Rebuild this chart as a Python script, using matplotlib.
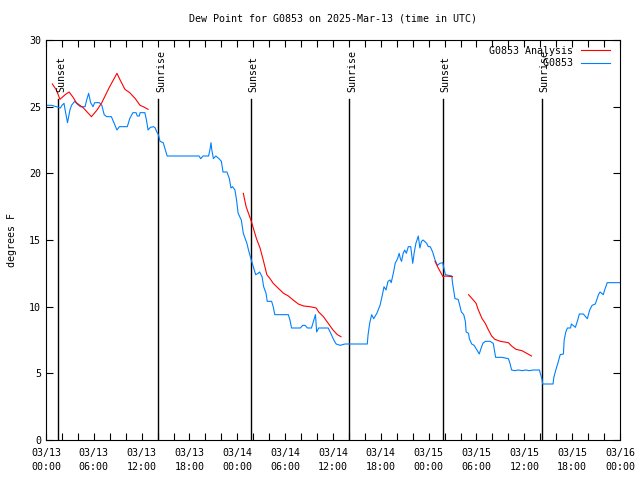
import numpy as np
import pandas as pd
import matplotlib
matplotlib.use('Agg')
import matplotlib.pyplot as plt
import matplotlib.dates as mdates

plt.rcParams['font.family'] = ['DejaVu Sans Mono']
plt.rcParams['font.size'] = 7.2

start = pd.Timestamp('2025-03-13 00:00')

# observed dew point (hours after start, deg F)
obs_hours = [0.0, 0.7, 1.3, 1.8, 2.0, 2.26, 2.4, 2.7, 3.0, 3.2, 3.6, 3.9, 4.3, 4.9, 5.1,
             5.35, 5.6, 5.9, 6.1, 6.7, 7.0, 7.3, 7.6, 8.2, 8.65, 8.9, 9.2, 10.2, 10.5, 10.9,
             11.3, 11.45, 11.7, 11.8, 12.4, 12.6, 12.8, 13.1, 13.5, 13.7, 13.9, 14.1, 14.3, 14.7, 14.9,
             15.2, 19.2, 19.4, 19.7, 20.4, 20.6, 20.7, 20.8, 21.0, 21.3, 21.7, 22.0, 22.2, 22.7, 23.0,
             23.2, 23.4, 23.7, 23.9, 24.1, 24.5, 24.75, 25.2, 25.4, 25.7, 26.0, 26.3, 26.6, 26.8, 27.1,
             27.3, 27.6, 27.75, 28.3, 28.5, 28.7, 30.4, 30.6, 30.8, 31.9, 32.2, 32.5, 32.8, 33.3, 33.6,
             33.8, 33.95, 34.2, 35.4, 35.8, 36.1, 36.4, 36.9, 37.5, 40.3, 40.4, 40.6, 40.85, 41.1, 41.5,
             41.9, 42.2, 42.4, 42.65, 42.9, 43.15, 43.3, 43.6, 43.8, 44.1, 44.3, 44.45, 44.6, 44.8, 45.0,
             45.2, 45.45, 45.75, 46.0, 46.2, 46.4, 46.7, 46.9, 47.1, 47.3, 47.75, 47.95, 48.2, 48.5, 48.8,
             49.1, 49.4, 49.75, 50.1, 50.9, 51.0, 51.2, 51.3, 51.7, 51.9, 52.1, 52.4, 52.6, 52.7, 53.0,
             53.1, 53.4, 53.7, 53.9, 54.35, 54.5, 54.8, 55.1, 55.7, 56.1, 56.4, 57.2, 58.0, 58.2, 58.4,
             58.8, 59.25, 59.7, 60.2, 60.6, 61.1, 61.9, 62.0, 62.2, 62.3, 63.6, 63.7, 63.95, 64.2, 64.5,
             64.9, 65.0, 65.2, 65.4, 65.8, 65.9, 66.4, 66.7, 66.9, 67.4, 67.9, 68.2, 68.5, 68.9, 69.1,
             69.3, 69.5, 69.9, 70.1, 70.4, 72.0]
obs_dewpt = [25.1, 25.1, 25.0, 24.9, 25.1, 25.25, 24.75, 23.8, 24.75, 25.1, 25.4, 25.2, 25.0, 25.0, 25.5,
             26.0, 25.3, 25.0, 25.3, 25.3, 25.1, 24.4, 24.25, 24.25, 23.6, 23.25, 23.5, 23.5, 24.1, 24.55,
             24.55, 24.3, 24.3, 24.55, 24.55, 24.0, 23.25, 23.45, 23.5, 23.4, 23.1, 22.9, 22.4, 22.3, 21.9,
             21.3, 21.3, 21.1, 21.3, 21.3, 21.9, 22.3, 21.75, 21.1, 21.3, 21.1, 20.9, 20.1, 20.1, 19.6,
             18.9, 19.0, 18.75, 18.0, 17.0, 16.5, 15.5, 14.75, 14.25, 13.6, 13.0, 12.4, 12.5, 12.6, 12.25,
             11.5, 11.0, 10.4, 10.4, 10.0, 9.4, 9.4, 9.0, 8.4, 8.4, 8.6, 8.6, 8.4, 8.4, 9.0,
             9.4, 8.1, 8.4, 8.4, 7.9, 7.5, 7.2, 7.1, 7.2, 7.2, 7.9, 8.75, 9.4, 9.1, 9.5,
             10.1, 10.9, 11.5, 11.25, 11.9, 12.0, 11.8, 12.6, 13.25, 13.6, 14.0, 13.6, 13.4, 14.0, 14.25,
             14.0, 14.5, 14.5, 13.25, 14.1, 14.75, 15.3, 14.4, 14.9, 15.0, 14.75, 14.5, 14.5, 14.1, 13.5,
             13.1, 13.25, 13.3, 12.4, 12.3, 11.75, 11.0, 10.6, 10.55, 10.1, 9.6, 9.4, 8.9, 8.1, 8.0,
             7.6, 7.2, 7.1, 6.9, 6.45, 6.75, 7.25, 7.4, 7.4, 7.25, 6.2, 6.2, 6.1, 5.75, 5.25,
             5.2, 5.25, 5.2, 5.25, 5.2, 5.25, 5.25, 5.0, 4.6, 4.2, 4.2, 4.7, 5.25, 5.75, 6.4,
             6.45, 7.5, 8.1, 8.4, 8.4, 8.7, 8.45, 9.0, 9.45, 9.45, 9.1, 9.75, 10.1, 10.2, 10.55,
             10.9, 11.1, 10.9, 11.3, 11.8, 11.8]

# analysis segments
ana1_hours = [0.8, 1.3, 1.75, 2.4, 2.9, 3.4, 3.8, 4.7, 5.7, 6.4, 7.0, 7.9, 8.9, 9.3, 9.9,
              10.5, 11.2, 11.8, 12.2, 12.8]
ana1_dewpt = [26.7, 26.25, 25.55, 25.9, 26.1, 25.7, 25.3, 24.9, 24.25, 24.75, 25.3, 26.4, 27.5, 27.0, 26.3,
              26.05, 25.6, 25.1, 25.0, 24.8]
ana2_hours = [24.75, 25.1, 25.7, 26.0, 26.4, 26.85, 27.25, 27.7, 28.1, 28.5, 29.1, 29.8, 30.4, 31.0,
              31.65, 32.3, 33.1, 33.9, 34.2, 34.8, 35.4, 36.0, 36.55, 37.0]
ana2_dewpt = [18.5, 17.5, 16.5, 15.9, 15.1, 14.4, 13.5, 12.4, 12.1, 11.75, 11.4, 11.0, 10.8, 10.5,
              10.2, 10.05, 10.0, 9.9, 9.6, 9.25, 8.75, 8.25, 7.9, 7.75]
ana3_hours = [48.8, 49.2, 49.8, 50.1, 51.0]
ana3_dewpt = [13.4, 12.9, 12.25, 12.3, 12.25]
ana4_hours = [53.0, 53.6, 53.95, 54.2, 54.7, 55.1, 55.5, 55.9, 56.3, 57.0, 58.0, 58.4, 58.95, 59.7,
              60.3, 60.9]
ana4_dewpt = [10.9, 10.5, 10.25, 9.8, 9.1, 8.75, 8.25, 7.8, 7.55, 7.4, 7.3, 7.05, 6.8, 6.7,
              6.5, 6.3]

sun_hours = [1.55, 14.09, 25.67, 38.05, 49.76, 62.17]
sun_labels = ['Sunset', 'Sunrise', 'Sunset', 'Sunrise', 'Sunset', 'Sunrise']


def to_time(h):
    return start + pd.to_timedelta(np.array(h), unit='h')


fig = plt.figure(figsize=(6.4, 4.8), dpi=100)
ax = fig.add_axes([46 / 640, 40 / 480, 574 / 640, 400 / 480])

red = '#ff0000'
blue = '#0080ff'
lw = 0.8

for i, (h, v) in enumerate([(ana1_hours, ana1_dewpt), (ana2_hours, ana2_dewpt),
                            (ana3_hours, ana3_dewpt), (ana4_hours, ana4_dewpt)]):
    ax.plot(to_time(h), v, color=red, lw=lw, label='G0853 Analysis' if i == 0 else None, zorder=3)
ax.plot(to_time(obs_hours), obs_dewpt, color=blue, lw=lw, label='         G0853', zorder=2)

for h, lab in zip(sun_hours, sun_labels):
    t = to_time([h])[0]
    ax.plot([t, t], [0, 25.6], color='black', lw=1.0, zorder=1)
    ax.annotate(lab, xy=(t, 26.1), xytext=(2, 0), textcoords='offset points',
                rotation=90, ha='center', va='bottom', fontsize=7.2)

ax.set_xlim(start, start + pd.Timedelta(hours=72))
ax.set_ylim(0, 30)
ax.set_yticks([0, 5, 10, 15, 20, 25, 30])
ax.xaxis.set_major_locator(mdates.HourLocator(byhour=[0, 6, 12, 18]))
ax.xaxis.set_minor_locator(mdates.HourLocator(byhour=range(0, 24, 2)))
ax.xaxis.set_major_formatter(mdates.DateFormatter('%m/%d\n%H:%M'))
ax.tick_params(which='both', direction='in', length=5, width=0.8, top=True, right=True,
               labelsize=7.2)
ax.tick_params(axis='x', pad=6)
for lbl in ax.get_xticklabels():
    lbl.set_linespacing(1.4)
for s in ax.spines.values():
    s.set_linewidth(0.8)

ax.set_title('Dew Point for G0853 on 2025-Mar-13 (time in UTC)', fontsize=7.2, pad=13)
ax.set_ylabel('degrees F', fontsize=7.2, labelpad=9)

leg = ax.legend(loc='upper right', bbox_to_anchor=(0.993, 1.0), frameon=False, markerfirst=False,
                fontsize=7.2, handlelength=2.9, labelspacing=0.25, borderaxespad=0.2,
                handletextpad=0.8)

fig.savefig('out.png', dpi=100)
